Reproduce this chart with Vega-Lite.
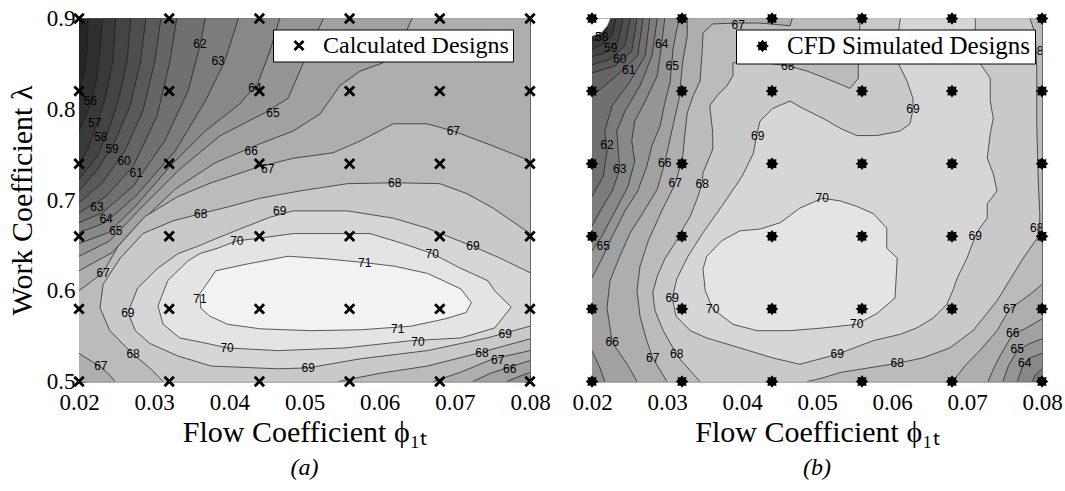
{
  "$schema": "https://vega.github.io/schema/vega-lite/v6.json",
  "background": "white",
  "padding": {"left": 6, "top": 6.5, "right": 5, "bottom": 2},
  "bounds": "flush",
  "spacing": 62,
  "config": {
    "font": "Liberation Serif",
    "view": {"stroke": "#666666", "strokeWidth": 1},
    "axis": {"labelFont": "Liberation Serif", "labelFontSize": 23, "labelColor": "#000000", "titleFont": "Liberation Serif", "titleFontSize": 30, "titleFontWeight": "normal", "titleColor": "#000000", "tickColor": "#333333", "tickSize": -6, "tickWidth": 1, "domain": false, "grid": false, "labelFlush": false, "zindex": 1},
    "axisX": {"labelPadding": 16, "titlePadding": 3},
    "axisY": {"labelPadding": 10, "titlePadding": 9},
    "legend": {"orient": "none", "title": null, "fillColor": "white", "strokeColor": "#000000", "strokeWidth": 1, "padding": 4, "labelFont": "Liberation Serif", "labelFontSize": 25, "labelColor": "#000000", "labelLimit": 400, "symbolFillColor": "#000000", "symbolStrokeWidth": 0, "labelOffset": 12, "zindex": 2}
  },
  "datasets": {
    "grid": [
      {"x":0.02,"y":0.5},{"x":0.032,"y":0.5},{"x":0.044,"y":0.5},{"x":0.056,"y":0.5},{"x":0.068,"y":0.5},{"x":0.08,"y":0.5},
      {"x":0.02,"y":0.58},{"x":0.032,"y":0.58},{"x":0.044,"y":0.58},{"x":0.056,"y":0.58},{"x":0.068,"y":0.58},{"x":0.08,"y":0.58},
      {"x":0.02,"y":0.66},{"x":0.032,"y":0.66},{"x":0.044,"y":0.66},{"x":0.056,"y":0.66},{"x":0.068,"y":0.66},{"x":0.08,"y":0.66},
      {"x":0.02,"y":0.74},{"x":0.032,"y":0.74},{"x":0.044,"y":0.74},{"x":0.056,"y":0.74},{"x":0.068,"y":0.74},{"x":0.08,"y":0.74},
      {"x":0.02,"y":0.82},{"x":0.032,"y":0.82},{"x":0.044,"y":0.82},{"x":0.056,"y":0.82},{"x":0.068,"y":0.82},{"x":0.08,"y":0.82},
      {"x":0.02,"y":0.9},{"x":0.032,"y":0.9},{"x":0.044,"y":0.9},{"x":0.056,"y":0.9},{"x":0.068,"y":0.9},{"x":0.08,"y":0.9}
    ],
    "blank": [
      {"x":0.018,"y":0.915},{"x":0.0224,"y":0.915},{"x":0.0224,"y":0.900},{"x":0.0220,"y":0.892},{"x":0.0213,"y":0.885},{"x":0.0205,"y":0.882},{"x":0.0200,"y":0.881},{"x":0.018,"y":0.881}
    ],
    "la": [
      {"t":"56","x":0.0215,"y":0.809},{"t":"57","x":0.0221,"y":0.785},{"t":"58","x":0.0229,"y":0.769},{"t":"59","x":0.0244,"y":0.756},{"t":"60","x":0.0260,"y":0.743},{"t":"61","x":0.0276,"y":0.730},
      {"t":"62","x":0.0361,"y":0.872},{"t":"63","x":0.0385,"y":0.853},{"t":"64","x":0.0434,"y":0.823},{"t":"65","x":0.0458,"y":0.796},{"t":"66","x":0.0429,"y":0.754},{"t":"67","x":0.0451,"y":0.734},
      {"t":"67","x":0.0698,"y":0.776},{"t":"68","x":0.0362,"y":0.685},{"t":"68","x":0.0620,"y":0.719},
      {"t":"63","x":0.0224,"y":0.692},{"t":"64","x":0.0236,"y":0.679},{"t":"65","x":0.0249,"y":0.666},
      {"t":"67","x":0.0232,"y":0.620},{"t":"69","x":0.0265,"y":0.576},{"t":"68","x":0.0272,"y":0.530},{"t":"67","x":0.0229,"y":0.517},
      {"t":"70","x":0.0410,"y":0.655},{"t":"70","x":0.0397,"y":0.537},{"t":"71","x":0.0361,"y":0.591},{"t":"71","x":0.0580,"y":0.631},{"t":"71","x":0.0624,"y":0.558},
      {"t":"70","x":0.0670,"y":0.641},{"t":"70","x":0.0651,"y":0.543},{"t":"69","x":0.0467,"y":0.688},{"t":"69","x":0.0724,"y":0.649},{"t":"69","x":0.0505,"y":0.515},
      {"t":"69","x":0.0767,"y":0.552},{"t":"68","x":0.0736,"y":0.531},{"t":"67","x":0.0757,"y":0.524},{"t":"66","x":0.0773,"y":0.514}
    ],
    "lb": [
      {"t":"58","x":0.0213,"y":0.880},{"t":"59","x":0.0225,"y":0.868},{"t":"60","x":0.0237,"y":0.855},{"t":"61","x":0.0249,"y":0.843},
      {"t":"62","x":0.0220,"y":0.761},{"t":"63","x":0.0237,"y":0.734},{"t":"64","x":0.0293,"y":0.872},{"t":"65","x":0.0307,"y":0.848},
      {"t":"65","x":0.0215,"y":0.649},{"t":"66","x":0.0297,"y":0.741},{"t":"66","x":0.0227,"y":0.543},{"t":"67","x":0.0311,"y":0.719},
      {"t":"67","x":0.0281,"y":0.526},{"t":"67","x":0.0395,"y":0.893},{"t":"68","x":0.0347,"y":0.718},{"t":"68","x":0.0313,"y":0.530},
      {"t":"68","x":0.0461,"y":0.848},{"t":"68","x":0.0793,"y":0.864},{"t":"68","x":0.0793,"y":0.669},{"t":"68","x":0.0607,"y":0.520},
      {"t":"69","x":0.0421,"y":0.771},{"t":"69","x":0.0628,"y":0.800},{"t":"69","x":0.0307,"y":0.592},{"t":"69","x":0.0711,"y":0.660},
      {"t":"69","x":0.0527,"y":0.530},{"t":"70","x":0.0361,"y":0.580},{"t":"70","x":0.0507,"y":0.702},{"t":"70","x":0.0553,"y":0.563},
      {"t":"67","x":0.0757,"y":0.580},{"t":"66","x":0.0761,"y":0.553},{"t":"65","x":0.0767,"y":0.536},{"t":"64","x":0.0777,"y":0.520}
    ],
    "ca": [
      {"lvl":54,"x":0.018,"y":0.915},{"lvl":54,"x":0.082,"y":0.915},{"lvl":54,"x":0.082,"y":0.485},{"lvl":54,"x":0.018,"y":0.485},
      {"lvl":55,"x":0.0212,"y":0.915},{"lvl":55,"x":0.0212,"y":0.900},{"lvl":55,"x":0.0211,"y":0.870},{"lvl":55,"x":0.0208,"y":0.842},{"lvl":55,"x":0.0200,"y":0.820},{"lvl":55,"x":0.018,"y":0.820},{"lvl":55,"x":0.018,"y":0.485},{"lvl":55,"x":0.082,"y":0.485},{"lvl":55,"x":0.082,"y":0.915},
      {"lvl":56,"x":0.0231,"y":0.915},{"lvl":56,"x":0.0231,"y":0.900},{"lvl":56,"x":0.0228,"y":0.864},{"lvl":56,"x":0.0223,"y":0.831},{"lvl":56,"x":0.0215,"y":0.804},{"lvl":56,"x":0.0200,"y":0.776},{"lvl":56,"x":0.018,"y":0.776},{"lvl":56,"x":0.018,"y":0.485},{"lvl":56,"x":0.082,"y":0.485},{"lvl":56,"x":0.082,"y":0.915},
      {"lvl":57,"x":0.0249,"y":0.915},{"lvl":57,"x":0.0249,"y":0.900},{"lvl":57,"x":0.0245,"y":0.853},{"lvl":57,"x":0.0236,"y":0.815},{"lvl":57,"x":0.0224,"y":0.785},{"lvl":57,"x":0.0212,"y":0.756},{"lvl":57,"x":0.0200,"y":0.740},{"lvl":57,"x":0.018,"y":0.740},{"lvl":57,"x":0.018,"y":0.485},{"lvl":57,"x":0.082,"y":0.485},{"lvl":57,"x":0.082,"y":0.915},
      {"lvl":58,"x":0.0269,"y":0.915},{"lvl":58,"x":0.0269,"y":0.900},{"lvl":58,"x":0.0264,"y":0.853},{"lvl":58,"x":0.0252,"y":0.809},{"lvl":58,"x":0.0239,"y":0.776},{"lvl":58,"x":0.0224,"y":0.748},{"lvl":58,"x":0.0200,"y":0.723},{"lvl":58,"x":0.018,"y":0.723},{"lvl":58,"x":0.018,"y":0.485},{"lvl":58,"x":0.082,"y":0.485},{"lvl":58,"x":0.082,"y":0.915},
      {"lvl":59,"x":0.0289,"y":0.915},{"lvl":59,"x":0.0289,"y":0.900},{"lvl":59,"x":0.0282,"y":0.853},{"lvl":59,"x":0.0268,"y":0.804},{"lvl":59,"x":0.0248,"y":0.765},{"lvl":59,"x":0.0225,"y":0.734},{"lvl":59,"x":0.0200,"y":0.710},{"lvl":59,"x":0.018,"y":0.710},{"lvl":59,"x":0.018,"y":0.485},{"lvl":59,"x":0.082,"y":0.485},{"lvl":59,"x":0.082,"y":0.915},
      {"lvl":60,"x":0.0309,"y":0.915},{"lvl":60,"x":0.0309,"y":0.900},{"lvl":60,"x":0.0301,"y":0.853},{"lvl":60,"x":0.0285,"y":0.798},{"lvl":60,"x":0.0261,"y":0.754},{"lvl":60,"x":0.0231,"y":0.719},{"lvl":60,"x":0.0200,"y":0.697},{"lvl":60,"x":0.018,"y":0.697},{"lvl":60,"x":0.018,"y":0.485},{"lvl":60,"x":0.082,"y":0.485},{"lvl":60,"x":0.082,"y":0.915},
      {"lvl":61,"x":0.0330,"y":0.915},{"lvl":61,"x":0.0330,"y":0.900},{"lvl":61,"x":0.0321,"y":0.853},{"lvl":61,"x":0.0304,"y":0.793},{"lvl":61,"x":0.0272,"y":0.737},{"lvl":61,"x":0.0236,"y":0.704},{"lvl":61,"x":0.0200,"y":0.686},{"lvl":61,"x":0.018,"y":0.686},{"lvl":61,"x":0.018,"y":0.485},{"lvl":61,"x":0.082,"y":0.485},{"lvl":61,"x":0.082,"y":0.915},
      {"lvl":62,"x":0.0368,"y":0.915},{"lvl":62,"x":0.0368,"y":0.900},{"lvl":62,"x":0.0361,"y":0.870},{"lvl":62,"x":0.0345,"y":0.820},{"lvl":62,"x":0.0314,"y":0.765},{"lvl":62,"x":0.0272,"y":0.715},{"lvl":62,"x":0.0231,"y":0.686},{"lvl":62,"x":0.0200,"y":0.675},{"lvl":62,"x":0.018,"y":0.675},{"lvl":62,"x":0.018,"y":0.485},{"lvl":62,"x":0.082,"y":0.485},{"lvl":62,"x":0.082,"y":0.915},
      {"lvl":63,"x":0.0412,"y":0.915},{"lvl":63,"x":0.0412,"y":0.900},{"lvl":63,"x":0.0394,"y":0.853},{"lvl":63,"x":0.0368,"y":0.809},{"lvl":63,"x":0.0328,"y":0.754},{"lvl":63,"x":0.0275,"y":0.704},{"lvl":63,"x":0.0235,"y":0.675},{"lvl":63,"x":0.0200,"y":0.664},{"lvl":63,"x":0.018,"y":0.664},{"lvl":63,"x":0.018,"y":0.485},{"lvl":63,"x":0.082,"y":0.485},{"lvl":63,"x":0.082,"y":0.915},
      {"lvl":64,"x":0.0467,"y":0.915},{"lvl":64,"x":0.0467,"y":0.900},{"lvl":64,"x":0.0454,"y":0.864},{"lvl":64,"x":0.0438,"y":0.829},{"lvl":64,"x":0.0414,"y":0.806},{"lvl":64,"x":0.0368,"y":0.776},{"lvl":64,"x":0.0321,"y":0.737},{"lvl":64,"x":0.0275,"y":0.693},{"lvl":64,"x":0.0239,"y":0.664},{"lvl":64,"x":0.0200,"y":0.652},{"lvl":64,"x":0.018,"y":0.652},{"lvl":64,"x":0.018,"y":0.485},{"lvl":64,"x":0.082,"y":0.485},{"lvl":64,"x":0.082,"y":0.915},
      {"lvl":65,"x":0.0525,"y":0.915},{"lvl":65,"x":0.0525,"y":0.900},{"lvl":65,"x":0.0498,"y":0.850},{"lvl":65,"x":0.0478,"y":0.812},{"lvl":65,"x":0.0447,"y":0.796},{"lvl":65,"x":0.0388,"y":0.771},{"lvl":65,"x":0.0334,"y":0.734},{"lvl":65,"x":0.0281,"y":0.690},{"lvl":65,"x":0.0241,"y":0.655},{"lvl":65,"x":0.0200,"y":0.638},{"lvl":65,"x":0.018,"y":0.638},{"lvl":65,"x":0.018,"y":0.485},{"lvl":65,"x":0.0769,"y":0.485},{"lvl":65,"x":0.0769,"y":0.500},{"lvl":65,"x":0.0784,"y":0.505},{"lvl":65,"x":0.0800,"y":0.510},{"lvl":65,"x":0.082,"y":0.510},{"lvl":65,"x":0.082,"y":0.915},
      {"lvl":66,"x":0.0643,"y":0.915},{"lvl":66,"x":0.0643,"y":0.900},{"lvl":66,"x":0.0627,"y":0.870},{"lvl":66,"x":0.0604,"y":0.851},{"lvl":66,"x":0.0574,"y":0.842},{"lvl":66,"x":0.0547,"y":0.826},{"lvl":66,"x":0.0521,"y":0.795},{"lvl":66,"x":0.0485,"y":0.776},{"lvl":66,"x":0.0441,"y":0.762},{"lvl":66,"x":0.0381,"y":0.741},{"lvl":66,"x":0.0328,"y":0.712},{"lvl":66,"x":0.0281,"y":0.675},{"lvl":66,"x":0.0244,"y":0.642},{"lvl":66,"x":0.0200,"y":0.622},{"lvl":66,"x":0.018,"y":0.622},{"lvl":66,"x":0.018,"y":0.485},{"lvl":66,"x":0.0724,"y":0.485},{"lvl":66,"x":0.0724,"y":0.500},{"lvl":66,"x":0.0747,"y":0.509},{"lvl":66,"x":0.0773,"y":0.516},{"lvl":66,"x":0.0800,"y":0.523},{"lvl":66,"x":0.082,"y":0.523},{"lvl":66,"x":0.082,"y":0.915},
      {"lvl":67,"x":0.082,"y":0.743},{"lvl":67,"x":0.0800,"y":0.743},{"lvl":67,"x":0.0777,"y":0.751},{"lvl":67,"x":0.0743,"y":0.762},{"lvl":67,"x":0.0698,"y":0.776},{"lvl":67,"x":0.0663,"y":0.784},{"lvl":67,"x":0.0618,"y":0.784},{"lvl":67,"x":0.0574,"y":0.765},{"lvl":67,"x":0.0538,"y":0.752},{"lvl":67,"x":0.0485,"y":0.746},{"lvl":67,"x":0.0441,"y":0.737},{"lvl":67,"x":0.0376,"y":0.719},{"lvl":67,"x":0.0332,"y":0.704},{"lvl":67,"x":0.0288,"y":0.682},{"lvl":67,"x":0.0252,"y":0.649},{"lvl":67,"x":0.0232,"y":0.620},{"lvl":67,"x":0.0200,"y":0.600},{"lvl":67,"x":0.018,"y":0.600},{"lvl":67,"x":0.018,"y":0.531},{"lvl":67,"x":0.0200,"y":0.531},{"lvl":67,"x":0.0221,"y":0.520},{"lvl":67,"x":0.0229,"y":0.516},{"lvl":67,"x":0.0241,"y":0.507},{"lvl":67,"x":0.0248,"y":0.500},{"lvl":67,"x":0.0248,"y":0.485},{"lvl":67,"x":0.0671,"y":0.485},{"lvl":67,"x":0.0671,"y":0.500},{"lvl":67,"x":0.0707,"y":0.510},{"lvl":67,"x":0.0751,"y":0.525},{"lvl":67,"x":0.0800,"y":0.534},{"lvl":67,"x":0.082,"y":0.534},
      {"lvl":68,"x":0.082,"y":0.663},{"lvl":68,"x":0.0800,"y":0.663},{"lvl":68,"x":0.0751,"y":0.691},{"lvl":68,"x":0.0716,"y":0.707},{"lvl":68,"x":0.0680,"y":0.718},{"lvl":68,"x":0.0620,"y":0.719},{"lvl":68,"x":0.0557,"y":0.718},{"lvl":68,"x":0.0494,"y":0.710},{"lvl":68,"x":0.0441,"y":0.702},{"lvl":68,"x":0.0401,"y":0.693},{"lvl":68,"x":0.0362,"y":0.685},{"lvl":68,"x":0.0325,"y":0.677},{"lvl":68,"x":0.0285,"y":0.663},{"lvl":68,"x":0.0255,"y":0.636},{"lvl":68,"x":0.0232,"y":0.607},{"lvl":68,"x":0.0228,"y":0.581},{"lvl":68,"x":0.0241,"y":0.556},{"lvl":68,"x":0.0272,"y":0.530},{"lvl":68,"x":0.0294,"y":0.515},{"lvl":68,"x":0.0312,"y":0.500},{"lvl":68,"x":0.0312,"y":0.485},{"lvl":68,"x":0.0545,"y":0.485},{"lvl":68,"x":0.0545,"y":0.500},{"lvl":68,"x":0.0600,"y":0.509},{"lvl":68,"x":0.0663,"y":0.517},{"lvl":68,"x":0.0730,"y":0.531},{"lvl":68,"x":0.0800,"y":0.547},{"lvl":68,"x":0.082,"y":0.547},
      {"lvl":69,"x":0.082,"y":0.620},{"lvl":69,"x":0.0800,"y":0.620},{"lvl":69,"x":0.0760,"y":0.636},{"lvl":69,"x":0.0724,"y":0.649},{"lvl":69,"x":0.0663,"y":0.669},{"lvl":69,"x":0.0618,"y":0.680},{"lvl":69,"x":0.0557,"y":0.688},{"lvl":69,"x":0.0485,"y":0.688},{"lvl":69,"x":0.0454,"y":0.681},{"lvl":69,"x":0.0414,"y":0.668},{"lvl":69,"x":0.0381,"y":0.657},{"lvl":69,"x":0.0358,"y":0.649},{"lvl":69,"x":0.0332,"y":0.641},{"lvl":69,"x":0.0305,"y":0.625},{"lvl":69,"x":0.0278,"y":0.603},{"lvl":69,"x":0.0265,"y":0.576},{"lvl":69,"x":0.0275,"y":0.556},{"lvl":69,"x":0.0294,"y":0.542},{"lvl":69,"x":0.0332,"y":0.528},{"lvl":69,"x":0.0376,"y":0.517},{"lvl":69,"x":0.0465,"y":0.514},{"lvl":69,"x":0.0505,"y":0.515},{"lvl":69,"x":0.0574,"y":0.525},{"lvl":69,"x":0.0663,"y":0.534},{"lvl":69,"x":0.0743,"y":0.548},{"lvl":69,"x":0.0800,"y":0.561},{"lvl":69,"x":0.082,"y":0.561},
      {"lvl":70,"x":0.0775,"y":0.582},{"lvl":70,"x":0.0753,"y":0.600},{"lvl":70,"x":0.0744,"y":0.611},{"lvl":70,"x":0.0707,"y":0.625},{"lvl":70,"x":0.0670,"y":0.641},{"lvl":70,"x":0.0631,"y":0.652},{"lvl":70,"x":0.0587,"y":0.663},{"lvl":70,"x":0.0557,"y":0.663},{"lvl":70,"x":0.0485,"y":0.663},{"lvl":70,"x":0.0441,"y":0.658},{"lvl":70,"x":0.0410,"y":0.655},{"lvl":70,"x":0.0385,"y":0.647},{"lvl":70,"x":0.0361,"y":0.641},{"lvl":70,"x":0.0345,"y":0.633},{"lvl":70,"x":0.0318,"y":0.611},{"lvl":70,"x":0.0305,"y":0.583},{"lvl":70,"x":0.0312,"y":0.563},{"lvl":70,"x":0.0334,"y":0.548},{"lvl":70,"x":0.0370,"y":0.542},{"lvl":70,"x":0.0397,"y":0.537},{"lvl":70,"x":0.0465,"y":0.534},{"lvl":70,"x":0.0554,"y":0.537},{"lvl":70,"x":0.0642,"y":0.545},{"lvl":70,"x":0.0708,"y":0.548},{"lvl":70,"x":0.0753,"y":0.559},
      {"lvl":71,"x":0.0361,"y":0.597},{"lvl":71,"x":0.0382,"y":0.622},{"lvl":71,"x":0.0421,"y":0.629},{"lvl":71,"x":0.0478,"y":0.638},{"lvl":71,"x":0.0531,"y":0.635},{"lvl":71,"x":0.0580,"y":0.631},{"lvl":71,"x":0.0620,"y":0.627},{"lvl":71,"x":0.0664,"y":0.619},{"lvl":71,"x":0.0708,"y":0.602},{"lvl":71,"x":0.0722,"y":0.587},{"lvl":71,"x":0.0715,"y":0.576},{"lvl":71,"x":0.0687,"y":0.569},{"lvl":71,"x":0.0642,"y":0.561},{"lvl":71,"x":0.0575,"y":0.557},{"lvl":71,"x":0.0509,"y":0.556},{"lvl":71,"x":0.0442,"y":0.558},{"lvl":71,"x":0.0398,"y":0.563},{"lvl":71,"x":0.0374,"y":0.572},{"lvl":71,"x":0.0362,"y":0.581}
    ],
    "cb": [
      {"lvl":55,"x":0.018,"y":0.915},{"lvl":55,"x":0.082,"y":0.915},{"lvl":55,"x":0.082,"y":0.485},{"lvl":55,"x":0.018,"y":0.485},
      {"lvl":56,"x":0.0221,"y":0.915},{"lvl":56,"x":0.0221,"y":0.900},{"lvl":56,"x":0.0219,"y":0.886},{"lvl":56,"x":0.0208,"y":0.877},{"lvl":56,"x":0.0200,"y":0.875},{"lvl":56,"x":0.018,"y":0.875},{"lvl":56,"x":0.018,"y":0.485},{"lvl":56,"x":0.082,"y":0.485},{"lvl":56,"x":0.082,"y":0.915},
      {"lvl":57,"x":0.0232,"y":0.915},{"lvl":57,"x":0.0232,"y":0.900},{"lvl":57,"x":0.0227,"y":0.881},{"lvl":57,"x":0.0211,"y":0.870},{"lvl":57,"x":0.0200,"y":0.866},{"lvl":57,"x":0.018,"y":0.866},{"lvl":57,"x":0.018,"y":0.485},{"lvl":57,"x":0.082,"y":0.485},{"lvl":57,"x":0.082,"y":0.915},
      {"lvl":58,"x":0.0241,"y":0.915},{"lvl":58,"x":0.0241,"y":0.900},{"lvl":58,"x":0.0235,"y":0.875},{"lvl":58,"x":0.0217,"y":0.862},{"lvl":58,"x":0.0200,"y":0.858},{"lvl":58,"x":0.018,"y":0.858},{"lvl":58,"x":0.018,"y":0.485},{"lvl":58,"x":0.082,"y":0.485},{"lvl":58,"x":0.082,"y":0.915},
      {"lvl":59,"x":0.0251,"y":0.915},{"lvl":59,"x":0.0251,"y":0.900},{"lvl":59,"x":0.0244,"y":0.870},{"lvl":59,"x":0.0224,"y":0.855},{"lvl":59,"x":0.0200,"y":0.849},{"lvl":59,"x":0.018,"y":0.849},{"lvl":59,"x":0.018,"y":0.485},{"lvl":59,"x":0.082,"y":0.485},{"lvl":59,"x":0.082,"y":0.915},
      {"lvl":60,"x":0.0260,"y":0.915},{"lvl":60,"x":0.0260,"y":0.900},{"lvl":60,"x":0.0253,"y":0.864},{"lvl":60,"x":0.0231,"y":0.848},{"lvl":60,"x":0.0200,"y":0.840},{"lvl":60,"x":0.018,"y":0.840},{"lvl":60,"x":0.018,"y":0.485},{"lvl":60,"x":0.082,"y":0.485},{"lvl":60,"x":0.082,"y":0.915},
      {"lvl":61,"x":0.0268,"y":0.915},{"lvl":61,"x":0.0268,"y":0.900},{"lvl":61,"x":0.0261,"y":0.859},{"lvl":61,"x":0.0237,"y":0.840},{"lvl":61,"x":0.0217,"y":0.826},{"lvl":61,"x":0.0200,"y":0.815},{"lvl":61,"x":0.018,"y":0.815},{"lvl":61,"x":0.018,"y":0.485},{"lvl":61,"x":0.082,"y":0.485},{"lvl":61,"x":0.082,"y":0.915},
      {"lvl":62,"x":0.0277,"y":0.915},{"lvl":62,"x":0.0277,"y":0.900},{"lvl":62,"x":0.0271,"y":0.859},{"lvl":62,"x":0.0251,"y":0.831},{"lvl":62,"x":0.0227,"y":0.804},{"lvl":62,"x":0.0217,"y":0.776},{"lvl":62,"x":0.0220,"y":0.754},{"lvl":62,"x":0.0215,"y":0.726},{"lvl":62,"x":0.0200,"y":0.704},{"lvl":62,"x":0.018,"y":0.704},{"lvl":62,"x":0.018,"y":0.485},{"lvl":62,"x":0.082,"y":0.485},{"lvl":62,"x":0.082,"y":0.915},
      {"lvl":63,"x":0.0287,"y":0.915},{"lvl":63,"x":0.0287,"y":0.900},{"lvl":63,"x":0.0280,"y":0.859},{"lvl":63,"x":0.0264,"y":0.826},{"lvl":63,"x":0.0244,"y":0.798},{"lvl":63,"x":0.0233,"y":0.776},{"lvl":63,"x":0.0235,"y":0.754},{"lvl":63,"x":0.0237,"y":0.734},{"lvl":63,"x":0.0227,"y":0.710},{"lvl":63,"x":0.0211,"y":0.688},{"lvl":63,"x":0.0200,"y":0.671},{"lvl":63,"x":0.018,"y":0.671},{"lvl":63,"x":0.018,"y":0.485},{"lvl":63,"x":0.0787,"y":0.485},{"lvl":63,"x":0.0787,"y":0.500},{"lvl":63,"x":0.0791,"y":0.507},{"lvl":63,"x":0.0800,"y":0.514},{"lvl":63,"x":0.082,"y":0.514},{"lvl":63,"x":0.082,"y":0.915},
      {"lvl":64,"x":0.0297,"y":0.915},{"lvl":64,"x":0.0297,"y":0.900},{"lvl":64,"x":0.0293,"y":0.872},{"lvl":64,"x":0.0287,"y":0.837},{"lvl":64,"x":0.0271,"y":0.809},{"lvl":64,"x":0.0257,"y":0.787},{"lvl":64,"x":0.0253,"y":0.765},{"lvl":64,"x":0.0257,"y":0.743},{"lvl":64,"x":0.0248,"y":0.715},{"lvl":64,"x":0.0231,"y":0.688},{"lvl":64,"x":0.0213,"y":0.660},{"lvl":64,"x":0.0200,"y":0.644},{"lvl":64,"x":0.018,"y":0.644},{"lvl":64,"x":0.018,"y":0.485},{"lvl":64,"x":0.0767,"y":0.485},{"lvl":64,"x":0.0767,"y":0.500},{"lvl":64,"x":0.0775,"y":0.519},{"lvl":64,"x":0.0784,"y":0.526},{"lvl":64,"x":0.0800,"y":0.531},{"lvl":64,"x":0.082,"y":0.531},{"lvl":64,"x":0.082,"y":0.915},
      {"lvl":65,"x":0.0317,"y":0.915},{"lvl":65,"x":0.0317,"y":0.900},{"lvl":65,"x":0.0313,"y":0.888},{"lvl":65,"x":0.0308,"y":0.866},{"lvl":65,"x":0.0304,"y":0.829},{"lvl":65,"x":0.0297,"y":0.807},{"lvl":65,"x":0.0291,"y":0.782},{"lvl":65,"x":0.0280,"y":0.760},{"lvl":65,"x":0.0273,"y":0.737},{"lvl":65,"x":0.0261,"y":0.710},{"lvl":65,"x":0.0244,"y":0.688},{"lvl":65,"x":0.0227,"y":0.660},{"lvl":65,"x":0.0213,"y":0.635},{"lvl":65,"x":0.0200,"y":0.614},{"lvl":65,"x":0.018,"y":0.614},{"lvl":65,"x":0.018,"y":0.534},{"lvl":65,"x":0.0200,"y":0.534},{"lvl":65,"x":0.0211,"y":0.514},{"lvl":65,"x":0.0217,"y":0.500},{"lvl":65,"x":0.0217,"y":0.485},{"lvl":65,"x":0.0748,"y":0.485},{"lvl":65,"x":0.0748,"y":0.500},{"lvl":65,"x":0.0755,"y":0.517},{"lvl":65,"x":0.0767,"y":0.534},{"lvl":65,"x":0.0784,"y":0.542},{"lvl":65,"x":0.0800,"y":0.547},{"lvl":65,"x":0.082,"y":0.547},{"lvl":65,"x":0.082,"y":0.915},
      {"lvl":66,"x":0.0327,"y":0.915},{"lvl":66,"x":0.0327,"y":0.900},{"lvl":66,"x":0.0327,"y":0.881},{"lvl":66,"x":0.0321,"y":0.853},{"lvl":66,"x":0.0316,"y":0.811},{"lvl":66,"x":0.0308,"y":0.782},{"lvl":66,"x":0.0301,"y":0.756},{"lvl":66,"x":0.0297,"y":0.741},{"lvl":66,"x":0.0287,"y":0.712},{"lvl":66,"x":0.0268,"y":0.686},{"lvl":66,"x":0.0251,"y":0.664},{"lvl":66,"x":0.0237,"y":0.638},{"lvl":66,"x":0.0224,"y":0.611},{"lvl":66,"x":0.0220,"y":0.581},{"lvl":66,"x":0.0227,"y":0.543},{"lvl":66,"x":0.0247,"y":0.519},{"lvl":66,"x":0.0260,"y":0.500},{"lvl":66,"x":0.0260,"y":0.485},{"lvl":66,"x":0.0728,"y":0.485},{"lvl":66,"x":0.0728,"y":0.500},{"lvl":66,"x":0.0737,"y":0.517},{"lvl":66,"x":0.0748,"y":0.534},{"lvl":66,"x":0.0761,"y":0.552},{"lvl":66,"x":0.0777,"y":0.558},{"lvl":66,"x":0.0800,"y":0.569},{"lvl":66,"x":0.082,"y":0.569},{"lvl":66,"x":0.082,"y":0.915},
      {"lvl":67,"x":0.0467,"y":0.915},{"lvl":67,"x":0.0467,"y":0.900},{"lvl":67,"x":0.0464,"y":0.892},{"lvl":67,"x":0.0424,"y":0.895},{"lvl":67,"x":0.0393,"y":0.895},{"lvl":67,"x":0.0361,"y":0.894},{"lvl":67,"x":0.0348,"y":0.884},{"lvl":67,"x":0.0347,"y":0.866},{"lvl":67,"x":0.0344,"y":0.831},{"lvl":67,"x":0.0335,"y":0.815},{"lvl":67,"x":0.0327,"y":0.796},{"lvl":67,"x":0.0324,"y":0.774},{"lvl":67,"x":0.0321,"y":0.748},{"lvl":67,"x":0.0315,"y":0.730},{"lvl":67,"x":0.0311,"y":0.718},{"lvl":67,"x":0.0293,"y":0.688},{"lvl":67,"x":0.0275,"y":0.655},{"lvl":67,"x":0.0264,"y":0.627},{"lvl":67,"x":0.0260,"y":0.600},{"lvl":67,"x":0.0264,"y":0.572},{"lvl":67,"x":0.0273,"y":0.545},{"lvl":67,"x":0.0281,"y":0.526},{"lvl":67,"x":0.0291,"y":0.512},{"lvl":67,"x":0.0300,"y":0.500},{"lvl":67,"x":0.0300,"y":0.485},{"lvl":67,"x":0.0681,"y":0.485},{"lvl":67,"x":0.0681,"y":0.500},{"lvl":67,"x":0.0697,"y":0.517},{"lvl":67,"x":0.0717,"y":0.534},{"lvl":67,"x":0.0740,"y":0.556},{"lvl":67,"x":0.0757,"y":0.580},{"lvl":67,"x":0.0784,"y":0.596},{"lvl":67,"x":0.0800,"y":0.607},{"lvl":67,"x":0.082,"y":0.607},{"lvl":67,"x":0.082,"y":0.915},
      {"lvl":68,"x":0.0557,"y":0.915},{"lvl":68,"x":0.0557,"y":0.900},{"lvl":68,"x":0.0557,"y":0.875},{"lvl":68,"x":0.0555,"y":0.853},{"lvl":68,"x":0.0555,"y":0.834},{"lvl":68,"x":0.0544,"y":0.823},{"lvl":68,"x":0.0521,"y":0.831},{"lvl":68,"x":0.0487,"y":0.842},{"lvl":68,"x":0.0461,"y":0.848},{"lvl":68,"x":0.0441,"y":0.850},{"lvl":68,"x":0.0420,"y":0.853},{"lvl":68,"x":0.0404,"y":0.853},{"lvl":68,"x":0.0388,"y":0.851},{"lvl":68,"x":0.0388,"y":0.837},{"lvl":68,"x":0.0380,"y":0.826},{"lvl":68,"x":0.0367,"y":0.815},{"lvl":68,"x":0.0357,"y":0.804},{"lvl":68,"x":0.0361,"y":0.774},{"lvl":68,"x":0.0361,"y":0.756},{"lvl":68,"x":0.0348,"y":0.730},{"lvl":68,"x":0.0347,"y":0.718},{"lvl":68,"x":0.0340,"y":0.701},{"lvl":68,"x":0.0331,"y":0.682},{"lvl":68,"x":0.0321,"y":0.668},{"lvl":68,"x":0.0311,"y":0.653},{"lvl":68,"x":0.0297,"y":0.635},{"lvl":68,"x":0.0287,"y":0.616},{"lvl":68,"x":0.0281,"y":0.598},{"lvl":68,"x":0.0284,"y":0.578},{"lvl":68,"x":0.0295,"y":0.556},{"lvl":68,"x":0.0308,"y":0.537},{"lvl":68,"x":0.0317,"y":0.525},{"lvl":68,"x":0.0331,"y":0.512},{"lvl":68,"x":0.0344,"y":0.500},{"lvl":68,"x":0.0344,"y":0.485},{"lvl":68,"x":0.0487,"y":0.485},{"lvl":68,"x":0.0487,"y":0.500},{"lvl":68,"x":0.0508,"y":0.504},{"lvl":68,"x":0.0531,"y":0.510},{"lvl":68,"x":0.0607,"y":0.520},{"lvl":68,"x":0.0641,"y":0.526},{"lvl":68,"x":0.0677,"y":0.537},{"lvl":68,"x":0.0708,"y":0.556},{"lvl":68,"x":0.0740,"y":0.589},{"lvl":68,"x":0.0775,"y":0.636},{"lvl":68,"x":0.0797,"y":0.662},{"lvl":68,"x":0.0797,"y":0.685},{"lvl":68,"x":0.0795,"y":0.721},{"lvl":68,"x":0.0793,"y":0.784},{"lvl":68,"x":0.0793,"y":0.845},{"lvl":68,"x":0.0791,"y":0.883},{"lvl":68,"x":0.0784,"y":0.900},{"lvl":68,"x":0.0784,"y":0.915},
      {"lvl":69,"x":0.0611,"y":0.915},{"lvl":69,"x":0.0611,"y":0.900},{"lvl":69,"x":0.0607,"y":0.875},{"lvl":69,"x":0.0607,"y":0.853},{"lvl":69,"x":0.0620,"y":0.831},{"lvl":69,"x":0.0628,"y":0.812},{"lvl":69,"x":0.0628,"y":0.800},{"lvl":69,"x":0.0624,"y":0.784},{"lvl":69,"x":0.0611,"y":0.776},{"lvl":69,"x":0.0580,"y":0.771},{"lvl":69,"x":0.0553,"y":0.771},{"lvl":69,"x":0.0531,"y":0.779},{"lvl":69,"x":0.0508,"y":0.790},{"lvl":69,"x":0.0481,"y":0.801},{"lvl":69,"x":0.0464,"y":0.809},{"lvl":69,"x":0.0441,"y":0.801},{"lvl":69,"x":0.0424,"y":0.787},{"lvl":69,"x":0.0420,"y":0.773},{"lvl":69,"x":0.0415,"y":0.751},{"lvl":69,"x":0.0400,"y":0.726},{"lvl":69,"x":0.0373,"y":0.693},{"lvl":69,"x":0.0348,"y":0.664},{"lvl":69,"x":0.0328,"y":0.638},{"lvl":69,"x":0.0313,"y":0.613},{"lvl":69,"x":0.0307,"y":0.592},{"lvl":69,"x":0.0312,"y":0.572},{"lvl":69,"x":0.0331,"y":0.556},{"lvl":69,"x":0.0353,"y":0.548},{"lvl":69,"x":0.0397,"y":0.537},{"lvl":69,"x":0.0441,"y":0.526},{"lvl":69,"x":0.0477,"y":0.519},{"lvl":69,"x":0.0527,"y":0.530},{"lvl":69,"x":0.0575,"y":0.545},{"lvl":69,"x":0.0611,"y":0.552},{"lvl":69,"x":0.0633,"y":0.559},{"lvl":69,"x":0.0655,"y":0.570},{"lvl":69,"x":0.0673,"y":0.585},{"lvl":69,"x":0.0681,"y":0.600},{"lvl":69,"x":0.0687,"y":0.614},{"lvl":69,"x":0.0700,"y":0.636},{"lvl":69,"x":0.0711,"y":0.660},{"lvl":69,"x":0.0717,"y":0.669},{"lvl":69,"x":0.0727,"y":0.680},{"lvl":69,"x":0.0727,"y":0.696},{"lvl":69,"x":0.0740,"y":0.710},{"lvl":69,"x":0.0735,"y":0.729},{"lvl":69,"x":0.0727,"y":0.746},{"lvl":69,"x":0.0731,"y":0.773},{"lvl":69,"x":0.0735,"y":0.790},{"lvl":69,"x":0.0731,"y":0.809},{"lvl":69,"x":0.0731,"y":0.834},{"lvl":69,"x":0.0717,"y":0.851},{"lvl":69,"x":0.0711,"y":0.875},{"lvl":69,"x":0.0711,"y":0.900},{"lvl":69,"x":0.0711,"y":0.915},
      {"lvl":70,"x":0.0348,"y":0.624},{"lvl":70,"x":0.0353,"y":0.638},{"lvl":70,"x":0.0373,"y":0.655},{"lvl":70,"x":0.0397,"y":0.666},{"lvl":70,"x":0.0424,"y":0.668},{"lvl":70,"x":0.0451,"y":0.675},{"lvl":70,"x":0.0477,"y":0.691},{"lvl":70,"x":0.0507,"y":0.702},{"lvl":70,"x":0.0531,"y":0.699},{"lvl":70,"x":0.0553,"y":0.693},{"lvl":70,"x":0.0575,"y":0.685},{"lvl":70,"x":0.0593,"y":0.669},{"lvl":70,"x":0.0593,"y":0.647},{"lvl":70,"x":0.0607,"y":0.636},{"lvl":70,"x":0.0604,"y":0.592},{"lvl":70,"x":0.0580,"y":0.575},{"lvl":70,"x":0.0553,"y":0.563},{"lvl":70,"x":0.0508,"y":0.559},{"lvl":70,"x":0.0464,"y":0.556},{"lvl":70,"x":0.0420,"y":0.556},{"lvl":70,"x":0.0388,"y":0.563},{"lvl":70,"x":0.0361,"y":0.580},{"lvl":70,"x":0.0351,"y":0.600}
    ]
  },
  "hconcat": [
    {
      "width": 451,
      "height": 363,
      "title": {"text": "(a)", "orient": "bottom", "anchor": "middle", "font": "Liberation Serif", "fontSize": 24, "fontStyle": "italic", "fontWeight": "normal", "color": "#000000", "offset": 8},
      "resolve": {"axis": {"x": "independent", "y": "independent"}},
      "layer": [
        {
          "data": {"name": "ca"},
          "mark": {"type": "line", "clip": true, "stroke": "#1a1a1a", "strokeWidth": 0.7, "interpolate": "linear-closed"},
          "encoding": {
            "x": {"field": "x", "type": "quantitative", "scale": {"domain": [0.02, 0.08], "nice": false, "zero": false}, "axis": {"orient": "bottom", "values": [0.02, 0.03, 0.04, 0.05, 0.06, 0.07, 0.08], "format": ".2f", "title": "Flow Coefficient ϕ₁ₜ"}},
            "y": {"field": "y", "type": "quantitative", "scale": {"domain": [0.5, 0.9], "nice": false, "zero": false}, "axis": {"orient": "left", "values": [0.5, 0.6, 0.7, 0.8, 0.9], "format": ".1f", "title": "Work Coefficient λ"}},
            "fill": {"field": "lvl", "type": "quantitative", "scale": {"type": "pow", "exponent": 1.25, "domain": [53, 71], "range": ["#1c1c1c", "#f2f2f2"]}, "legend": null},
            "order": {"value": null}
          }
        },
        {
          "data": {"name": "la"},
          "mark": {"type": "text", "font": "Liberation Sans", "fontSize": 12, "color": "#000000", "align": "center", "baseline": "middle", "clip": true},
          "encoding": {
            "x": {"field": "x", "type": "quantitative", "axis": null},
            "y": {"field": "y", "type": "quantitative", "axis": null},
            "text": {"field": "t", "type": "nominal"}
          }
        },
        {
          "data": {"name": "grid"},
          "mark": {"type": "point", "filled": true, "color": "#000000", "opacity": 1, "size": 130},
          "encoding": {
            "x": {"field": "x", "type": "quantitative", "axis": {"orient": "top", "labels": false, "title": null, "values": [0.02, 0.03, 0.04, 0.05, 0.06, 0.07, 0.08]}},
            "y": {"field": "y", "type": "quantitative", "axis": {"orient": "right", "labels": false, "title": null, "values": [0.5, 0.6, 0.7, 0.8, 0.9]}},
            "shape": {"datum": "Calculated Designs", "type": "nominal", "scale": {"range": ["M-1,-0.65L-0.65,-1L0,-0.35L0.65,-1L1,-0.65L0.35,0L1,0.65L0.65,1L0,0.35L-0.65,1L-1,0.65L-0.35,0Z"]}, "legend": {"legendX": 194, "legendY": 11, "symbolSize": 120, "symbolOffset": 10, "labelFontSize": 24}}
          }
        }
      ]
    },
    {
      "width": 450,
      "height": 363,
      "title": {"text": "(b)", "orient": "bottom", "anchor": "middle", "font": "Liberation Serif", "fontSize": 24, "fontStyle": "italic", "fontWeight": "normal", "color": "#000000", "offset": 8},
      "resolve": {"axis": {"x": "independent", "y": "independent"}},
      "layer": [
        {
          "data": {"name": "cb"},
          "mark": {"type": "line", "clip": true, "stroke": "#1a1a1a", "strokeWidth": 0.7, "interpolate": "linear-closed"},
          "encoding": {
            "x": {"field": "x", "type": "quantitative", "scale": {"domain": [0.02, 0.08], "nice": false, "zero": false}, "axis": {"orient": "bottom", "values": [0.02, 0.03, 0.04, 0.05, 0.06, 0.07, 0.08], "format": ".2f", "title": "Flow Coefficient ϕ₁ₜ"}},
            "y": {"field": "y", "type": "quantitative", "scale": {"domain": [0.5, 0.9], "nice": false, "zero": false}, "axis": {"orient": "left", "values": [0.5, 0.6, 0.7, 0.8, 0.9], "labels": false, "title": null}},
            "fill": {"field": "lvl", "type": "quantitative", "scale": {"type": "pow", "exponent": 1.25, "domain": [53, 71], "range": ["#1c1c1c", "#f2f2f2"]}, "legend": null},
            "order": {"value": null}
          }
        },
        {
          "data": {"name": "blank"},
          "mark": {"type": "line", "clip": true, "fill": "#ffffff", "stroke": "#ffffff", "strokeWidth": 0.5, "interpolate": "linear-closed"},
          "encoding": {
            "x": {"field": "x", "type": "quantitative", "axis": null},
            "y": {"field": "y", "type": "quantitative", "axis": null},
            "order": {"value": null}
          }
        },
        {
          "data": {"name": "lb"},
          "mark": {"type": "text", "font": "Liberation Sans", "fontSize": 12, "color": "#000000", "align": "center", "baseline": "middle", "clip": true},
          "encoding": {
            "x": {"field": "x", "type": "quantitative", "axis": null},
            "y": {"field": "y", "type": "quantitative", "axis": null},
            "text": {"field": "t", "type": "nominal"}
          }
        },
        {
          "data": {"name": "grid"},
          "mark": {"type": "point", "filled": true, "color": "#000000", "opacity": 1, "size": 160},
          "encoding": {
            "x": {"field": "x", "type": "quantitative", "axis": {"orient": "top", "labels": false, "title": null, "values": [0.02, 0.03, 0.04, 0.05, 0.06, 0.07, 0.08]}},
            "y": {"field": "y", "type": "quantitative", "axis": {"orient": "right", "labels": false, "title": null, "values": [0.5, 0.6, 0.7, 0.8, 0.9]}},
            "shape": {"datum": "CFD Simulated Designs", "type": "nominal", "scale": {"range": ["M1,0L0.65,0.27L0.71,0.71L0.27,0.65L0,1L-0.27,0.65L-0.71,0.71L-0.65,0.27L-1,0L-0.65,-0.27L-0.71,-0.71L-0.27,-0.65L0,-1L0.27,-0.65L0.71,-0.71L0.65,-0.27Z"]}, "legend": {"legendX": 144, "legendY": 11, "symbolSize": 160, "symbolOffset": 10}}
          }
        }
      ]
    }
  ],
  "resolve": {"scale": {"shape": "independent"}, "legend": {"shape": "independent"}}
}
